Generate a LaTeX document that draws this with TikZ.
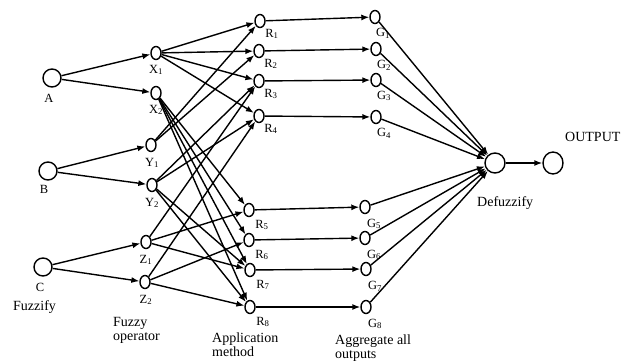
\documentclass[tikz,border=0pt]{standalone}
\usepackage{fontspec}
\setmainfont{Liberation Serif}
\usetikzlibrary{arrows.meta,shapes.geometric}
\begin{document}
\begin{tikzpicture}[x=1pt,y=-1pt,
  big/.style={circle,draw,line width=1.4pt,minimum size=18pt,inner sep=0pt},
  sm/.style={ellipse,draw,line width=1.4pt,minimum width=10pt,minimum height=13pt,inner sep=0pt},
  lab/.style={font=\fontsize{12.5}{14}\selectfont,inner sep=0pt},
  captxt/.style={font=\fontsize{14}{14}\selectfont,inner sep=0pt,align=left,anchor=west},
  arr/.style={line width=1.4pt,-{Latex[length=8pt,width=6pt]}},
]
\useasboundingbox (0,0) rectangle (629,361);
% input nodes
\node[big] (A) at (52,78) {};
\node[big] (B) at (48,171) {};
\node[big] (C) at (43,267) {};
\node[lab] (lA) at (49,98) {A};
\node[lab] (lB) at (44,189) {B};
\node[lab] (lC) at (40,287) {C};
% fuzzy operator nodes
\node[sm] (X1) at (156,53) {};
\node[sm] (X2) at (156,93) {};
\node[sm] (Y1) at (151,145) {};
\node[sm] (Y2) at (152,185) {};
\node[sm] (Z1) at (146,242) {};
\node[sm] (Z2) at (145,282) {};
\node[lab] (lX1) at (156,70) {X\textsubscript{1}};
\node[lab] (lX2) at (156,110) {X\textsubscript{2}};
\node[lab] (lY1) at (152,163) {Y\textsubscript{1}};
\node[lab] (lY2) at (152,203) {Y\textsubscript{2}};
\node[lab] (lZ1) at (146,260) {Z\textsubscript{1}};
\node[lab] (lZ2) at (146,300) {Z\textsubscript{2}};
% rule nodes
\node[sm] (R1) at (260,21) {};
\node[sm] (R2) at (259,51) {};
\node[sm] (R3) at (259,81) {};
\node[sm] (R4) at (259,116) {};
\node[sm] (R5) at (249,210) {};
\node[sm] (R6) at (249,240) {};
\node[sm] (R7) at (250,270) {};
\node[sm] (R8) at (250,307) {};
\node[lab] (lR1) at (272,34) {R\textsubscript{1}};
\node[lab] (lR2) at (271,64) {R\textsubscript{2}};
\node[lab] (lR3) at (271,94) {R\textsubscript{3}};
\node[lab] (lR4) at (271,129) {R\textsubscript{4}};
\node[lab] (lR5) at (262,225) {R\textsubscript{5}};
\node[lab] (lR6) at (262,255) {R\textsubscript{6}};
\node[lab] (lR7) at (263,285) {R\textsubscript{7}};
\node[lab] (lR8) at (263,322) {R\textsubscript{8}};
% aggregate nodes
\node[sm] (G1) at (375,17) {};
\node[sm] (G2) at (376,49) {};
\node[sm] (G3) at (376,80) {};
\node[sm] (G4) at (376,117) {};
\node[sm] (G5) at (365,207) {};
\node[sm] (G6) at (365,238) {};
\node[sm] (G7) at (366,269) {};
\node[sm] (G8) at (366,307) {};
\node[lab] (lG1) at (383,33) {G\textsubscript{1}};
\node[lab] (lG2) at (384,65) {G\textsubscript{2}};
\node[lab] (lG3) at (384,96) {G\textsubscript{3}};
\node[lab] (lG4) at (384,133) {G\textsubscript{4}};
\node[lab] (lG5) at (374,224) {G\textsubscript{5}};
\node[lab] (lG6) at (374,255) {G\textsubscript{6}};
\node[lab] (lG7) at (375,286) {G\textsubscript{7}};
\node[lab] (lG8) at (375,324) {G\textsubscript{8}};
% defuzzify and output
\node[big,minimum size=20pt] (D) at (495,163) {};
\node[big,minimum width=20pt,minimum height=22pt,ellipse] (O) at (553,163) {};
% captions
\node[captxt] (tF) at (13,307) {Fuzzify};
\node[captxt] (tFO) at (113,330) {Fuzzy\\operator};
\node[captxt] (tAM) at (212,345) {Application\\method};
\node[captxt] (tAG) at (335,348) {Aggregate all\\outputs};
\node[captxt] (tD) at (477,203) {Defuzzify};
\node[captxt] (tO) at (565,137) {OUTPUT};
% fuzzify arrows
\draw[arr] (A) -- (X1);
\draw[arr] (A) -- (X2);
\draw[arr] (B) -- (Y1);
\draw[arr] (B) -- (Y2);
\draw[arr] (C) -- (Z1);
\draw[arr] (C) -- (Z2);
% operator to rules
\foreach \r in {R1,R2,R3,R4} \draw[arr] (X1) -- (\r);
\foreach \r in {R5,R6,R7,R8} \draw[arr] (X2) -- (\r);
\foreach \r in {R1,R2} \draw[arr] (Y1) -- (\r);
\foreach \r in {R3,R4,R7,R8} \draw[arr] (Y2) -- (\r);
\foreach \r in {R3,R5,R7} \draw[arr] (Z1) -- (\r);
\foreach \r in {R4,R6,R8} \draw[arr] (Z2) -- (\r);
% rules to aggregate
\foreach \i in {1,...,8} \draw[arr] (R\i) -- (G\i);
% aggregate to defuzzify
\foreach \i in {1,...,8} \draw[arr] (G\i) -- (D);
\draw[arr] (D) -- (O);
\end{tikzpicture}
\end{document}
